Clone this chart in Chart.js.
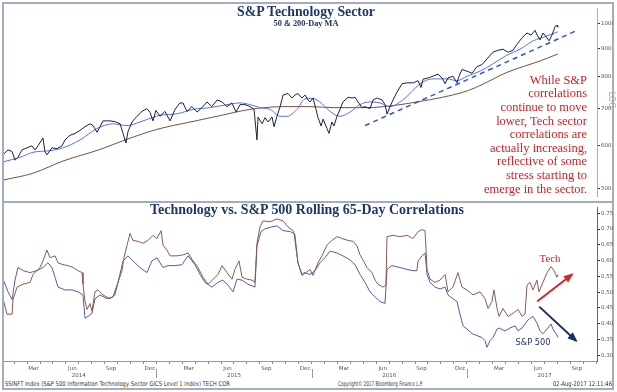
<!DOCTYPE html>
<html>
<head>
<meta charset="utf-8">
<script src="https://cdn.jsdelivr.net/npm/chart.js@4.4.1/dist/chart.umd.min.js"></script>
<style>
html,body{margin:0;padding:0;background:#fff;}
body{width:617px;height:392px;position:relative;overflow:hidden;}
.abs{position:absolute;white-space:nowrap;line-height:1;}
#frame{position:absolute;left:2px;top:2px;width:612px;height:388px;box-sizing:border-box;border:2px solid #a3adbf;}
#divider{position:absolute;left:3px;top:201px;width:610px;height:2px;background:#a3adbf;}
canvas{position:absolute;}
#c1{left:4px;top:4px;}
#c2{left:4px;top:203px;}
.title{font-family:"Liberation Serif",serif;font-weight:bold;color:#1f3766;}
.note{font-family:"Liberation Serif",serif;color:#c9252b;}
.foot{font-family:"DejaVu Sans",sans-serif;color:#333;transform-origin:0 50%;}
#log{font-family:"DejaVu Sans",sans-serif;color:#a0a0a0;transform:rotate(90deg);}
</style>
</head>
<body>
<div id="frame"></div>
<div id="divider"></div>
<canvas id="c1" width="609" height="197"></canvas>
<canvas id="c2" width="609" height="177"></canvas>

<div class="abs title" id="t1">S&amp;P Technology Sector</div>
<div class="abs title" id="t1s">50 &amp; 200-Day MA</div>
<div class="abs title" id="t2">Technology vs. S&amp;P 500 Rolling 65-Day Correlations</div>
<div class="abs" id="log">LOG</div>
<div id="notes"></div>
<div class="abs note" id="techLbl">Tech</div>
<div class="abs" id="spLbl" style="color:#1f3a70;font-family:'DejaVu Sans',sans-serif">S&amp;P 500</div>
<div class="abs foot" id="f1">SSINFT Index (S&amp;P 500 Information Technology Sector GICS Level 1 Index) TECH COR</div>
<div class="abs foot" id="f2">Copyright© 2017 Bloomberg Finance L.P.</div>
<div class="abs foot" id="f3">02-Aug-2017 12:11:46</div>

<script>
// ---------------- DATA (x values are decimal years) ----------------
const priceTicks = [500, 600, 700, 800, 900, 1000];
const corrTicks = [0.30, 0.35, 0.40, 0.45, 0.50, 0.55, 0.60, 0.65, 0.70, 0.75];
const monthNames = ['Mar', 'Jun', 'Sep', 'Dec'];
const monthNums = [3, 6, 9, 12];
const years = [2014, 2015, 2016, 2017];
const yearLabels = ['2014', '2015', '2016', '2017'];

const priceDates = [2014.012,2014.044,2014.070,2014.089,2014.108,2014.134,2014.166,2014.198,2014.218,2014.237,
2014.269,2014.282,2014.295,2014.327,2014.360,2014.392,2014.411,2014.443,2014.476,2014.508,
2014.540,2014.572,2014.592,2014.617,2014.637,2014.656,2014.701,2014.733,2014.766,2014.785,
2014.804,2014.817,2014.843,2014.875,2014.907,2014.939,2014.959,2014.978,2014.997,
2015.023,2015.055,2015.088,2015.120,2015.152,2015.171,2015.197,2015.229,2015.262,2015.294,
2015.326,2015.358,2015.391,2015.423,2015.455,2015.487,2015.513,2015.539,2015.571,2015.603,
2015.629,2015.648,2015.655,2015.681,2015.700,2015.720,2015.745,2015.758,2015.777,2015.797,
2015.816,2015.848,2015.874,2015.893,2015.912,2015.938,2015.958,2015.977,2015.990,
2016.009,2016.028,2016.041,2016.061,2016.074,2016.099,2016.112,2016.131,2016.144,2016.164,
2016.183,2016.202,2016.235,2016.260,2016.280,2016.299,2016.325,2016.344,2016.376,2016.396,
2016.421,2016.454,2016.473,2016.486,2016.505,2016.525,2016.550,2016.583,2016.615,2016.654,
2016.686,2016.705,2016.718,2016.750,2016.782,2016.815,2016.841,2016.860,2016.879,2016.911,
2016.937,2016.950,2016.969,
2017.001,2017.034,2017.066,2017.098,2017.130,2017.169,2017.201,2017.233,2017.265,2017.298,
2017.323,2017.356,2017.388,2017.414,2017.440,2017.453,2017.472,2017.491,2017.517,2017.530,
2017.549,2017.569,2017.582,2017.586];
const priceValues = [577,589,585,564,571,589,594,599,589,599,
619,585,577,594,592,599,614,626,631,639,
649,657,652,634,649,665,665,663,657,631,
606,636,662,678,692,700,689,665,695,
678,692,665,698,717,717,692,706,690,703,
720,706,726,720,706,717,690,712,712,706,
698,614,676,657,674,662,676,649,678,706,
741,746,732,741,746,732,741,726,720,
732,698,675,651,670,644,631,662,651,678,
698,720,734,732,734,720,703,706,700,726,
732,726,712,684,706,726,750,777,780,780,
787,765,792,796,802,809,796,777,796,802,
780,802,825,
819,812,835,842,862,887,894,898,887,894,
916,942,961,953,972,953,934,961,942,930,
953,988,992,985];

const ma50Dates = [2014.012,2014.121,2014.205,2014.314,2014.398,2014.508,2014.617,2014.720,2014.811,2014.894,2014.978,
2015.023,2015.133,2015.236,2015.345,2015.455,2015.539,2015.603,2015.668,2015.732,2015.797,2015.842,2015.906,2015.957,
2016.003,2016.054,2016.119,2016.183,2016.248,2016.312,2016.376,2016.441,2016.505,2016.570,2016.634,2016.699,2016.782,2016.873,2016.937,
2017.001,2017.085,2017.169,2017.259,2017.343,2017.427,2017.517,2017.586];
const ma50Values = [560,571,583,587,594,614,644,657,652,662,675,
681,685,698,703,712,717,712,703,698,678,678,698,729,
731,720,692,678,690,712,720,717,706,720,746,777,793,793,787,
802,819,845,876,898,930,949,966];

const ma200Dates = [2014.012,2014.205,2014.398,2014.637,2014.798,2015.023,2015.197,2015.391,2015.603,2015.700,
2015.816,2015.990,2016.138,2016.357,2016.525,2016.679,2016.841,2016.970,2017.054,2017.259,2017.472,2017.586];
const ma200Values = [519,534,562,590,614,644,660,678,698,703,
706,706,703,703,709,720,734,749,764,815,855,880];

const trendDates = [2016.344, 2017.697];
const trendValues = [652, 968];

const techDates = [2014.012,2014.037,2014.070,2014.076,2014.102,2014.141,2014.186,2014.205,2014.250,2014.269,
2014.295,2014.314,2014.347,2014.366,2014.398,2014.430,2014.463,2014.495,2014.521,2014.527,
2014.540,2014.553,2014.572,2014.585,2014.604,2014.624,2014.656,2014.701,2014.733,2014.753,
2014.778,2014.791,2014.811,2014.830,2014.849,2014.881,2014.914,2014.946,2014.978,
2015.004,2015.030,2015.043,2015.068,2015.088,2015.133,2015.171,2015.204,2015.236,2015.268,
2015.300,2015.333,2015.365,2015.397,2015.423,2015.455,2015.487,2015.506,2015.532,2015.552,
2015.584,2015.616,2015.635,2015.648,2015.668,2015.687,2015.732,2015.777,2015.816,2015.848,
2015.880,2015.893,2015.912,2015.938,2015.958,2015.990,
2016.009,2016.041,2016.067,2016.099,2016.131,2016.164,2016.196,2016.235,2016.267,2016.293,
2016.312,2016.331,2016.357,2016.389,2016.409,2016.428,2016.460,2016.479,2016.486,2016.525,
2016.570,2016.615,2016.653,2016.686,2016.711,2016.731,2016.744,2016.763,2016.795,2016.827,
2016.860,2016.879,2016.911,2016.943,2016.969,
2017.001,2017.040,2017.085,2017.117,2017.137,2017.162,2017.175,2017.195,2017.208,2017.233,
2017.266,2017.298,2017.330,2017.356,2017.375,2017.388,2017.407,2017.427,2017.452,2017.465,
2017.491,2017.517,2017.543,2017.562,2017.581,2017.588];
const techValues = [0.479,0.430,0.430,0.476,0.516,0.525,0.531,0.556,0.578,0.599,
0.633,0.609,0.615,0.593,0.587,0.584,0.578,0.568,0.562,0.525,
0.470,0.445,0.464,0.439,0.501,0.507,0.491,0.479,0.491,0.531,
0.568,0.609,0.649,0.686,0.664,0.661,0.655,0.664,0.680,
0.670,0.695,0.649,0.633,0.615,0.615,0.618,0.624,0.599,0.578,
0.547,0.525,0.541,0.556,0.584,0.562,0.541,0.572,0.599,0.547,
0.541,0.538,0.531,0.655,0.707,0.726,0.723,0.732,0.726,0.707,
0.695,0.680,0.593,0.553,0.560,0.572,
0.553,0.593,0.615,0.649,0.664,0.676,0.670,0.664,0.661,0.646,
0.618,0.602,0.578,0.562,0.538,0.525,0.516,0.522,0.676,0.680,
0.676,0.680,0.670,0.692,0.698,0.695,0.572,0.541,0.531,0.538,
0.556,0.501,0.516,0.562,0.516,
0.507,0.491,0.501,0.479,0.448,0.470,0.507,0.448,0.423,0.448,
0.423,0.433,0.445,0.423,0.430,0.522,0.531,0.507,0.538,0.501,
0.531,0.562,0.581,0.568,0.547,0.556];

const spxDates = [2014.012,2014.044,2014.070,2014.089,2014.108,2014.141,2014.186,2014.231,2014.269,2014.301,
2014.327,2014.347,2014.366,2014.411,2014.456,2014.495,2014.527,2014.540,2014.559,2014.585,
2014.604,2014.637,2014.682,2014.720,2014.753,2014.785,2014.817,2014.849,2014.894,2014.939,2014.971,
2015.004,2015.023,2015.043,2015.075,2015.120,2015.165,2015.204,2015.249,2015.281,2015.313,
2015.358,2015.397,2015.429,2015.461,2015.494,2015.519,2015.552,2015.590,2015.635,2015.648,
2015.674,2015.700,2015.745,2015.777,2015.816,2015.861,2015.887,2015.912,2015.938,2015.950,2015.990,
2016.022,2016.054,2016.086,2016.119,2016.164,2016.202,2016.248,2016.280,2016.312,2016.344,
2016.376,2016.409,2016.441,2016.473,2016.486,2016.518,2016.570,2016.615,2016.653,2016.679,
2016.686,2016.711,2016.731,2016.744,2016.763,2016.795,2016.827,2016.860,2016.879,2016.911,
2016.937,2016.956,2016.976,
2017.001,2017.034,2017.066,2017.098,2017.117,2017.130,2017.150,2017.169,2017.195,2017.208,
2017.246,2017.278,2017.311,2017.330,2017.356,2017.388,2017.407,2017.427,2017.452,2017.472,
2017.491,2017.517,2017.543,2017.555,2017.575,2017.588];
const spxValues = [0.541,0.501,0.476,0.538,0.578,0.568,0.562,0.568,0.578,0.593,
0.578,0.547,0.516,0.507,0.507,0.501,0.491,0.417,0.423,0.433,
0.479,0.491,0.479,0.485,0.531,0.599,0.615,0.599,0.578,0.562,0.599,
0.609,0.593,0.578,0.584,0.584,0.587,0.615,0.587,0.556,0.531,
0.516,0.531,0.538,0.522,0.501,0.541,0.538,0.525,0.516,0.646,
0.692,0.701,0.707,0.710,0.695,0.692,0.686,0.593,0.556,0.562,0.556,
0.568,0.593,0.609,0.630,0.624,0.615,0.602,0.587,0.556,0.531,
0.501,0.485,0.470,0.464,0.572,0.584,0.578,0.572,0.568,0.568,
0.599,0.615,0.624,0.556,0.531,0.516,0.510,0.516,0.491,0.479,
0.470,0.430,0.393,
0.383,0.368,0.362,0.356,0.346,0.325,0.346,0.356,0.383,0.386,
0.377,0.386,0.393,0.377,0.386,0.408,0.417,0.423,0.402,0.377,
0.368,0.383,0.399,0.383,0.368,0.356];

const arrowUpDates = [2017.453, 2017.678];
const arrowUpValues = [0.470, 0.556];
const arrowDownDates = [2017.467, 2017.704];
const arrowDownValues = [0.454, 0.346];

const noteLines = ['While S&P', 'correlations', 'continue to move', 'lower, Tech sector',
  'correlations are', 'actually increasing,', 'reflective of some', 'stress starting to', 'emerge in the sector.'];

// ---------------- helpers ----------------
const pts = (xs, ys) => xs.map((x, i) => ({x: x, y: ys[i]}));
const X_MIN = 2014.018, X_MAX = 2017.839;
const inRange = v => v >= X_MIN && v <= X_MAX;

const monthBounds = [];
years.forEach(y => { for (let m = 0; m < 12; m++) monthBounds.push(y + m / 12); });
const monthLabelTicks = [], monthLabelText = [];
years.forEach(y => monthNums.forEach((m, i) => {
  const v = y + (m - 0.5) / 12;
  if (inRange(v)) { monthLabelTicks.push(v); monthLabelText.push(monthNames[i]); }
}));
const yearTicks = years.map(y => y + 0.5);
const yearBounds = years.slice(1);

const common = {
  responsive: false, animation: false, events: [],
  layout: {padding: 0},
  plugins: {legend: {display: false}, tooltip: {enabled: false}},
  elements: {point: {radius: 0}, line: {tension: 0}}
};
const tickFont = {family: 'DejaVu Sans', size: 5.5};

new Chart(document.getElementById('c1'), {
  type: 'line',
  data: {datasets: [
    {data: pts(priceDates, priceValues), borderColor: '#1e1e46', borderWidth: 1},
    {data: pts(ma50Dates, ma50Values), borderColor: '#5472f5', borderWidth: 1, cubicInterpolationMode: 'monotone'},
    {data: pts(ma200Dates, ma200Values), borderColor: '#765046', borderWidth: 1, cubicInterpolationMode: 'monotone'},
    {data: pts(trendDates, trendValues), borderColor: '#2f4fe6', borderWidth: 1.5, borderDash: [5, 4]}
  ]},
  options: Object.assign({}, common, {
    scales: {
      x: {type: 'linear', min: X_MIN, max: X_MAX, display: false},
      y: {type: 'logarithmic', position: 'right', min: 484, max: 1066,
        afterBuildTicks: s => { s.ticks = priceTicks.map(v => ({value: v})); },
        afterFit: s => { s.width = 16; },
        ticks: {font: tickFont, color: '#555', padding: 1, autoSkip: false, callback: v => String(v)},
        grid: {drawOnChartArea: false, tickLength: 3, tickColor: '#22306a', tickWidth: 1},
        border: {color: '#a3adbf', width: 1}
      }
    }
  })
});

const extras = {
  id: 'extras',
  afterDatasetsDraw(chart) {
    const ctx = chart.ctx;
    chart.data.datasets.forEach((ds, i) => {
      if (!ds.arrow) return;
      const p = chart.getDatasetMeta(i).data;
      const a = p[p.length - 2], b = p[p.length - 1];
      const ang = Math.atan2(b.y - a.y, b.x - a.x);
      const L = 8, W = 4;
      ctx.save();
      ctx.fillStyle = ds.borderColor;
      ctx.beginPath();
      ctx.moveTo(b.x + Math.cos(ang) * 2, b.y + Math.sin(ang) * 2);
      ctx.lineTo(b.x - Math.cos(ang) * L - Math.sin(ang) * W, b.y - Math.sin(ang) * L + Math.cos(ang) * W);
      ctx.lineTo(b.x - Math.cos(ang) * L + Math.sin(ang) * W, b.y - Math.sin(ang) * L - Math.cos(ang) * W);
      ctx.closePath();
      ctx.fill();
      ctx.restore();
    });
  },
  afterDraw(chart) {
    const ctx = chart.ctx, xs = chart.scales.x;
    ctx.save();
    ctx.strokeStyle = '#9a9a9a'; ctx.lineWidth = 1;
    yearBounds.forEach(v => {
      const px = Math.round(xs.getPixelForValue(v)) + 0.5;
      ctx.beginPath(); ctx.moveTo(px, 166); ctx.lineTo(px, 175); ctx.stroke();
    });
    ctx.restore();
  }
};

new Chart(document.getElementById('c2'), {
  type: 'line',
  data: {datasets: [
    {data: pts(techDates, techValues), borderColor: '#8a5a54', borderWidth: 1},
    {data: pts(spxDates, spxValues), borderColor: '#5a5aa8', borderWidth: 1},
    {data: pts(arrowUpDates, arrowUpValues), borderColor: '#d2262b', borderWidth: 2, arrow: true},
    {data: pts(arrowDownDates, arrowDownValues), borderColor: '#1b2f66', borderWidth: 2, arrow: true}
  ]},
  plugins: [extras],
  options: Object.assign({}, common, {
    scales: {
      x: {type: 'linear', position: 'bottom', min: X_MIN, max: X_MAX, weight: 0,
        afterBuildTicks: s => { s.ticks = monthBounds.filter(inRange).map(v => ({value: v})); },
        afterFit: s => { s.height = 4; },
        ticks: {display: false, autoSkip: false},
        grid: {drawOnChartArea: false, tickLength: 3, tickColor: '#888'},
        border: {color: '#8f9ab0', width: 1}
      },
      xm: {type: 'linear', position: 'bottom', min: X_MIN, max: X_MAX, weight: 1,
        afterBuildTicks: s => { s.ticks = monthLabelTicks.map(v => ({value: v})); },
        afterFit: s => { s.height = 7; },
        ticks: {font: tickFont, color: '#555', padding: 0, autoSkip: false, maxRotation: 0, callback: (v, i) => monthLabelText[i]},
        grid: {display: false, drawTicks: false}, border: {display: false}
      },
      xy: {type: 'linear', position: 'bottom', min: X_MIN, max: X_MAX, weight: 2,
        afterBuildTicks: s => { s.ticks = yearTicks.map(v => ({value: v})); },
        afterFit: s => { s.height = 8; },
        ticks: {font: tickFont, color: '#555', padding: 0, autoSkip: false, maxRotation: 0, callback: (v, i) => yearLabels[i]},
        grid: {display: false, drawTicks: false}, border: {display: false}
      },
      y: {type: 'linear', position: 'right', min: 0.2815, max: 0.769,
        afterBuildTicks: s => { s.ticks = corrTicks.map(v => ({value: v})); },
        afterFit: s => { s.width = 16; },
        ticks: {font: tickFont, color: '#555', padding: 1, autoSkip: false, callback: v => v.toFixed(2)},
        grid: {drawOnChartArea: false, tickLength: 3, tickColor: '#22306a', tickWidth: 1},
        border: {color: '#5b5bb0', width: 1}
      }
    }
  })
});

// ---------------- text placement ----------------
function fit(el, w) {
  el.style.fontSize = '20px';
  const r = el.getBoundingClientRect();
  el.style.fontSize = (20 * w / r.width) + 'px';
}
function put(el, o) {
  const r = el.getBoundingClientRect();
  let left = o.cx !== undefined ? o.cx - r.width / 2 : (o.left !== undefined ? o.left : o.right - r.width);
  el.style.left = left + 'px';
  el.style.top = (o.cy - r.height / 2) + 'px';
}
function fp(id, w, o) { const el = document.getElementById(id); fit(el, w); put(el, o); }
// footer: fixed height, squeezed horizontally to the measured width
function squeeze(id, size, w, o) {
  const el = document.getElementById(id);
  el.style.fontSize = size + 'px';
  const r = el.getBoundingClientRect();
  const k = w / r.width;
  el.style.transform = 'scaleX(' + k + ')';
  const left = o.left !== undefined ? o.left : o.right - w;
  el.style.left = left + 'px';
  el.style.top = (o.cy - r.height / 2) + 'px';
}

fp('t1', 138, {cx: 306, cy: 12});
fp('t1s', 65, {cx: 306, cy: 24});
fp('t2', 314, {cx: 307, cy: 210});
fp('techLbl', 21, {cx: 550, cy: 258});
fp('spLbl', 35, {cx: 533, cy: 342});
squeeze('f1', 6.5, 225, {left: 5, cy: 384});
squeeze('f2', 6.5, 85, {left: 338, cy: 384});
squeeze('f3', 6.5, 59, {right: 612, cy: 384});
(function () {
  const el = document.getElementById('log');
  el.style.fontSize = '8px';
  const r = el.getBoundingClientRect();
  el.style.left = (607 - r.width / 2) + 'px';
  el.style.top = (104 - r.height / 2) + 'px';
})();
(function () {
  const box = document.getElementById('notes');
  const els = noteLines.map(t => { const d = document.createElement('div'); d.className = 'abs note'; d.textContent = t; box.appendChild(d); return d; });
  fit(els[8], 103);
  const fs = els[8].style.fontSize;
  els.forEach((d, i) => { d.style.fontSize = fs; put(d, {right: 587, cy: 80 + i * 13.6}); });
})();
</script>
</body>
</html>
